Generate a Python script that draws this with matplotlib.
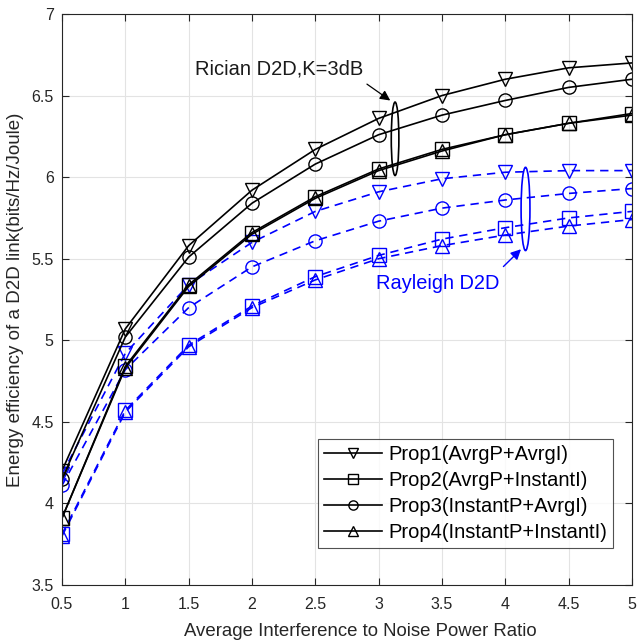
import numpy as np
import matplotlib
matplotlib.use('Agg')
import matplotlib.pyplot as plt
from matplotlib.patches import Ellipse

plt.rcParams['font.family'] = ['Liberation Sans', 'DejaVu Sans']

inr = [0.5, 1, 1.5, 2, 2.5, 3, 3.5, 4, 4.5, 5]

# Rician D2D, K=3dB
ric_p1 = [4.20, 5.07, 5.58, 5.92, 6.17, 6.36, 6.50, 6.60, 6.67, 6.70]
ric_p2 = [3.91, 4.84, 5.34, 5.66, 5.88, 6.05, 6.17, 6.26, 6.33, 6.39]
ric_p3 = [4.15, 5.02, 5.51, 5.84, 6.08, 6.26, 6.38, 6.47, 6.55, 6.60]
ric_p4 = [3.91, 4.83, 5.33, 5.65, 5.87, 6.04, 6.16, 6.26, 6.33, 6.38]

# Rayleigh D2D
ray_p1 = [4.18, 4.92, 5.34, 5.60, 5.79, 5.91, 5.99, 6.03, 6.04, 6.04]
ray_p2 = [3.81, 4.57, 4.97, 5.21, 5.39, 5.52, 5.62, 5.69, 5.75, 5.79]
ray_p3 = [4.11, 4.82, 5.20, 5.45, 5.61, 5.73, 5.81, 5.86, 5.90, 5.93]
ray_p4 = [3.80, 4.56, 4.96, 5.20, 5.37, 5.50, 5.58, 5.645, 5.70, 5.74]

labels = ['Prop1(AvrgP+AvrgI)', 'Prop2(AvrgP+InstantI)',
          'Prop3(InstantP+AvrgI)', 'Prop4(InstantP+InstantI)']
markers = ['v', 's', 'o', '^']

fig = plt.figure(figsize=(6.37, 6.42), dpi=100)
ax = fig.add_axes([0.0973, 0.0888, 0.8947, 0.8894])

tc = '#262626'
ms = 9.5
for ys, m in zip([ray_p1, ray_p2, ray_p3, ray_p4], markers):
    ax.plot(inr, ys, '--', color='blue', marker=m, mfc='none', mec='blue',
            ms=ms, lw=1.2, dashes=(5, 3.5))
hs = []
for ys, m, lab in zip([ric_p1, ric_p2, ric_p3, ric_p4], markers, labels):
    h, = ax.plot(inr, ys, '-', color='black', marker=m, mfc='none', mec='black',
                 ms=ms, lw=1.2, label=lab)
    hs.append(h)

# ellipses grouping curves
ax.add_patch(Ellipse((3.13, 6.235), 0.06, 0.45, fill=False, ec='black', lw=1.2))
ax.add_patch(Ellipse((4.16, 5.805), 0.07, 0.51, fill=False, ec='blue', lw=1.2))

ax.annotate('', xy=(3.11, 6.46), xytext=(2.89, 6.58),
            arrowprops=dict(arrowstyle='-|>', color='black', lw=0.9,
                            mutation_scale=15))
ax.text(1.55, 6.66, 'Rician D2D,K=3dB', fontsize=14.5, color='#1a1a1a',
        va='center', ha='left')
ax.annotate('', xy=(4.14, 5.57), xytext=(3.97, 5.44),
            arrowprops=dict(arrowstyle='-|>', color='blue', lw=1.0,
                            mutation_scale=15))
ax.text(2.98, 5.35, 'Rayleigh D2D', fontsize=14.4, color='blue',
        va='center', ha='left')

ax.set_xlim(0.5, 5)
ax.set_ylim(3.5, 7)
ax.set_xticks(inr)
ax.set_xticklabels(['0.5', '1', '1.5', '2', '2.5', '3', '3.5', '4', '4.5', '5'])
ax.set_yticks(np.arange(3.5, 7.01, 0.5))
ax.set_yticklabels(['3.5', '4', '4.5', '5', '5.5', '6', '6.5', '7'])
ax.grid(True, color='#e3e3e3', lw=0.8)
ax.set_axisbelow(True)
ax.tick_params(direction='in', top=True, right=True, colors=tc,
               labelsize=11.5, length=5, width=0.8)
ax.tick_params(axis='x', pad=9)
ax.tick_params(axis='y', pad=6)
for s in ax.spines.values():
    s.set_color(tc)
    s.set_linewidth(0.8)
ax.set_xlabel('Average Interference to Noise Power Ratio', fontsize=13.4,
              color=tc)
ax.xaxis.set_label_coords(0.524, -0.066)
ax.set_ylabel('Energy efficiency of a D2D link(bits/Hz/Joule)', fontsize=13.5,
              color=tc)
ax.yaxis.set_label_coords(-0.066, 0.5)

leg = ax.legend(handles=hs, loc='lower right', bbox_to_anchor=(0.967, 0.065),
                fontsize=14.5, frameon=True, fancybox=False, edgecolor=tc,
                handlelength=2.9, handletextpad=0.3, borderpad=0.3,
                labelspacing=0.35, markerscale=0.7, borderaxespad=0)
leg.get_frame().set_linewidth(0.8)

fig.savefig('out.png', dpi=100)
